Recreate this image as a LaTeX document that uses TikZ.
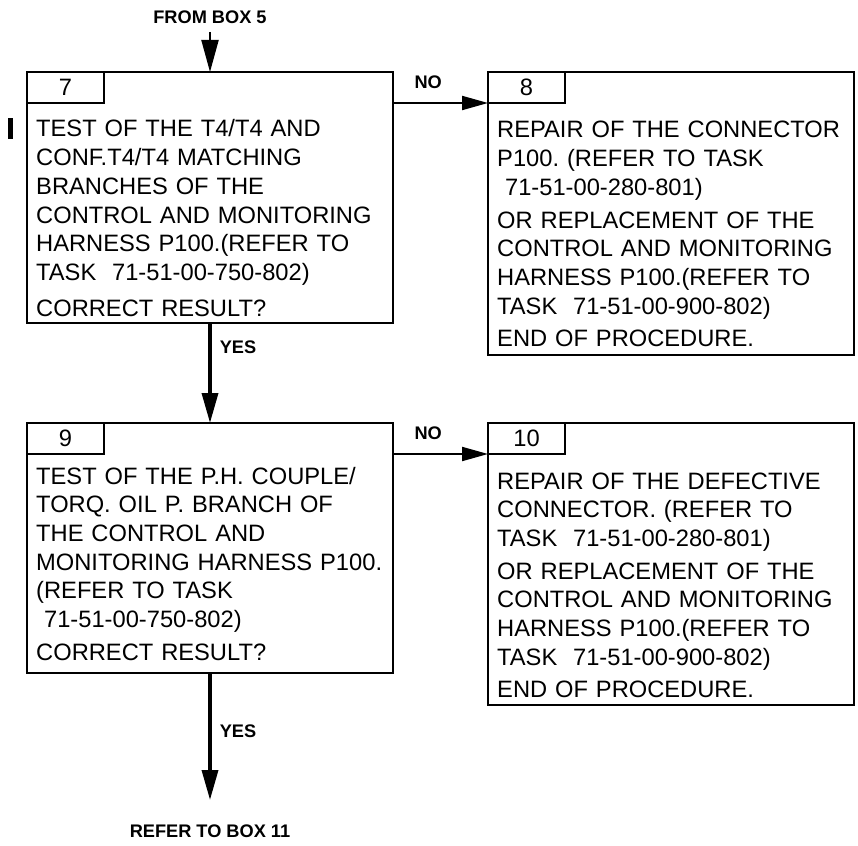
\documentclass[tikz,border=0pt]{standalone}
\usepackage{fontspec}
\setsansfont{Liberation Sans}
\usetikzlibrary{arrows.meta, positioning}
\frenchspacing

\begin{document}
\begin{tikzpicture}[
  x=1pt, y=1pt,
  stepbox/.style={
    rectangle, draw=black, line width=2pt,
    minimum width=366pt, inner sep=0pt, outer sep=0pt
  },
  numtab/.style={
    rectangle, draw=black, line width=2pt,
    minimum width=77pt, minimum height=31pt,
    inner sep=0pt, outer sep=0pt, anchor=north west,
    font=\sffamily\fontsize{23.7}{28.7}\selectfont
  },
  body/.style={
    anchor=base west, inner sep=0pt, text width=420pt, align=left,
    font=\sffamily\fontsize{23.7}{28.7}\selectfont\frenchspacing
  },
  lbl/.style={inner sep=0pt, font=\sffamily\bfseries\fontsize{18.2}{20}\selectfont},
  chgbar/.style={fill=black, minimum width=5pt, minimum height=21pt, inner sep=0pt},
  noarr/.style={-{Triangle[length=26pt,width=14pt]}, line width=2pt},
  yesarr/.style={-{Triangle[length=30pt,width=16pt]}, line width=3.5pt},
  inarr/.style={-{Triangle[length=32pt,width=17pt]}, line width=2pt},
]
\useasboundingbox (0,0) rectangle (858,-845);

% Boxes
\node[stepbox, minimum height=251pt, anchor=north west] (box7) at (27,-72) {};
\node[stepbox, minimum height=283pt, right=95pt of box7.north east, anchor=north west] (box8) {};
\node[stepbox, minimum height=250pt, below=100pt of box7.south west, anchor=north west] (box9) {};
\node[stepbox, minimum height=282pt, right=95pt of box9.north east, anchor=north west] (box10) {};

% Number tabs
\node[numtab] (tab7) at (box7.north west) {7};
\node[numtab] (tab8) at (box8.north west) {8};
\node[numtab] (tab9) at (box9.north west) {9};
\node[numtab] (tab10) at (box10.north west) {10};

% Box texts
\node[body] (txt7) at ([xshift=9pt, yshift=-34pt]tab7.south west)
  {TEST OF THE T4/T4 AND\\
   CONF.T4/T4 MATCHING\\
   BRANCHES OF THE\\
   CONTROL AND MONITORING\\
   HARNESS P100.(REFER TO\\
   TASK~ 71-51-00-750-802)\\[7pt]
   CORRECT RESULT?};
\node[body] (txt8) at ([xshift=9pt, yshift=-35pt]tab8.south west)
  {REPAIR OF THE CONNECTOR\\
   P100. (REFER TO TASK\\
   ~71-51-00-280-801)\\[4pt]
   OR REPLACEMENT OF THE\\
   CONTROL AND MONITORING\\
   HARNESS P100.(REFER TO\\
   TASK~ 71-51-00-900-802)\\[4pt]
   END OF PROCEDURE.};
\node[body] (txt9) at ([xshift=9pt, yshift=-30pt]tab9.south west)
  {TEST OF THE P.H. COUPLE/\\
   TORQ. OIL P. BRANCH OF\\
   THE CONTROL AND\\
   MONITORING HARNESS P100.\\
   (REFER TO TASK\\
   ~71-51-00-750-802)\\[4pt]
   CORRECT RESULT?};
\node[body] (txt10) at ([xshift=9pt, yshift=-35pt]tab10.south west)
  {REPAIR OF THE DEFECTIVE\\
   CONNECTOR. (REFER TO\\
   TASK~ 71-51-00-280-801)\\[4pt]
   OR REPLACEMENT OF THE\\
   CONTROL AND MONITORING\\
   HARNESS P100.(REFER TO\\
   TASK~ 71-51-00-900-802)\\[4pt]
   END OF PROCEDURE.};

% Change bar
\node[chgbar] (chg) at ([xshift=-16.5pt, yshift=-56.5pt]box7.north west) {};

% In and out labels
\node[lbl, above=48pt of box7.north] (from5) {FROM BOX 5};
\node[lbl, below=152pt of box9.south] (ref11) {REFER TO BOX 11};

% Arrows
\draw[inarr, shorten <=8pt] (from5.south) -- (box7.north);
\draw[noarr] (box7.east |- tab8.south west) -- node[lbl, above=13pt, pos=0.37] (no8) {NO} (tab8.south west);
\draw[noarr] (box9.east |- tab10.south west) -- node[lbl, above=13pt, pos=0.37] (no10) {NO} (tab10.south west);
\draw[yesarr] (box7.south) -- node[lbl, right=8pt, pos=0.24] (yes9) {YES} (box9.north);
\draw[yesarr, shorten >=25pt] (box9.south) -- node[lbl, right=8pt, pos=0.38] (yes11) {YES} (ref11.north);

\end{tikzpicture}
\end{document}
